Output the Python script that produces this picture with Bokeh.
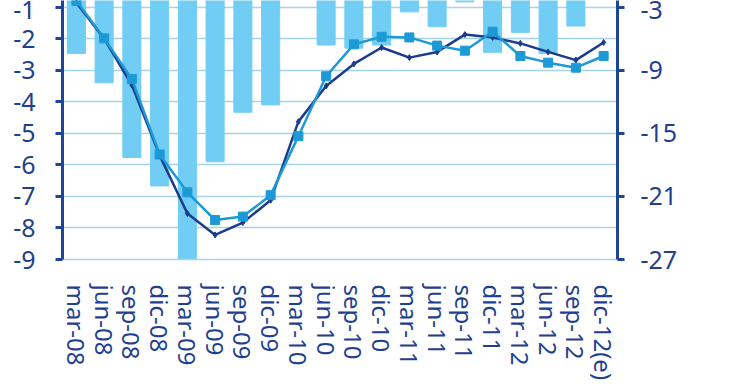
from bokeh.plotting import figure
from bokeh.models import Range1d, LinearAxis, FixedTicker, ColumnDataSource, CustomJSTickFormatter
from bokeh.embed import file_html
from bokeh.resources import INLINE

categories = ["mar-08", "jun-08", "sep-08", "dic-08", "mar-09", "jun-09", "sep-09", "dic-09",
              "mar-10", "jun-10", "sep-10", "dic-10", "mar-11", "jun-11", "sep-11", "dic-11",
              "mar-12", "jun-12", "sep-12", "dic-12(e)"]

# bars, right-axis units
bars_right = [-7.4, -10.2, -17.3, -20.0, -27.5, -17.7, -13.0, -12.3, float("nan"), -6.6,
              -6.9, -6.6, -3.45, -4.86, -2.5, -7.3, -5.4, -7.4, -4.8, float("nan")]

# dark navy line, left-axis units
dark_line = [-0.86, -2.0, -3.47, -5.7, -7.54, -8.22, -7.83, -7.12, -4.63, -3.5,
             -2.8, -2.28, -2.6, -2.42, -1.87, -1.96, -2.15, -2.42, -2.68, -2.12]

# light blue line with squares, left-axis units
light_line = [-0.8, -1.99, -3.28, -5.67, -6.87, -7.75, -7.64, -6.96, -5.09, -3.19,
              -2.18, -1.94, -1.96, -2.22, -2.38, -1.78, -2.55, -2.76, -2.92, -2.55]

left_ticks = [-9, -8, -7, -6, -5, -4, -3, -2, -1]
right_ticks = [-27, -21, -15, -9, -3]

AXIS = "#1e4596"
TXT = "#1f3f8f"
FONT = "Noto Sans"
FS = "25px"
fmt_code = "return tick.toString();"

p = figure(x_range=categories, y_range=Range1d(-9, -0.79),
           frame_width=555, frame_height=259, output_backend="svg", toolbar_location=None,
           min_border_left=62, min_border_right=0, min_border_top=0, min_border_bottom=0)
p.extra_y_ranges = {"right": Range1d(-27, -2.37)}
p.outline_line_color = None
p.background_fill_color = "white"

src = ColumnDataSource(dict(cat=categories, bars=bars_right, dark=dark_line, light=light_line))

p.vbar(x="cat", top="bars", bottom=0, width=0.65, source=src, color="#71cdf3",
       y_range_name="right")

p.line(x="cat", y="dark", source=src, line_color="#1b3c8e", line_width=2.5)
p.scatter(x="cat", y="dark", source=src, marker="diamond", size=6, color="#1b3c8e")
p.line(x="cat", y="light", source=src, line_color="#1c9ad6", line_width=2.5)
p.scatter(x="cat", y="light", source=src, marker="square", size=9, color="#1c9ad6")

p.xgrid.grid_line_color = None
p.ygrid.grid_line_color = "#a6d3e5"
p.ygrid.grid_line_width = 1.5
p.ygrid.ticker = FixedTicker(ticks=left_ticks)

# left axis
ya = p.yaxis[0]
ya.ticker = FixedTicker(ticks=left_ticks)
ya.formatter = CustomJSTickFormatter(code=fmt_code)
ya.axis_line_color = AXIS
ya.axis_line_width = 3
ya.major_tick_line_color = AXIS
ya.major_tick_line_width = 3
ya.major_tick_out = 7
ya.major_tick_in = 0
ya.minor_tick_line_color = None
ya.major_label_text_font = FONT
ya.major_label_text_font_size = FS
ya.major_label_text_color = TXT
ya.major_label_standoff = 20

# right axis
ra = LinearAxis(y_range_name="right", ticker=FixedTicker(ticks=right_ticks),
                formatter=CustomJSTickFormatter(code=fmt_code))
ra.axis_line_color = AXIS
ra.axis_line_width = 3
ra.major_tick_line_color = AXIS
ra.major_tick_line_width = 3
ra.major_tick_out = 7
ra.major_tick_in = 0
ra.minor_tick_line_color = None
ra.major_label_text_font = FONT
ra.major_label_text_font_size = FS
ra.major_label_text_color = TXT
ra.major_label_standoff = 16
p.add_layout(ra, "right")

# x axis
xa = p.xaxis[0]
xa.axis_line_color = "#a6d3e5"
xa.axis_line_width = 1.5
xa.major_tick_line_color = None
xa.minor_tick_line_color = None
xa.major_label_orientation = "vertical"
xa.major_label_text_font = FONT
xa.major_label_text_font_size = "24px"
xa.major_label_text_color = TXT
xa.major_label_standoff = 19

open("out.html", "w").write(file_html(p, INLINE))
